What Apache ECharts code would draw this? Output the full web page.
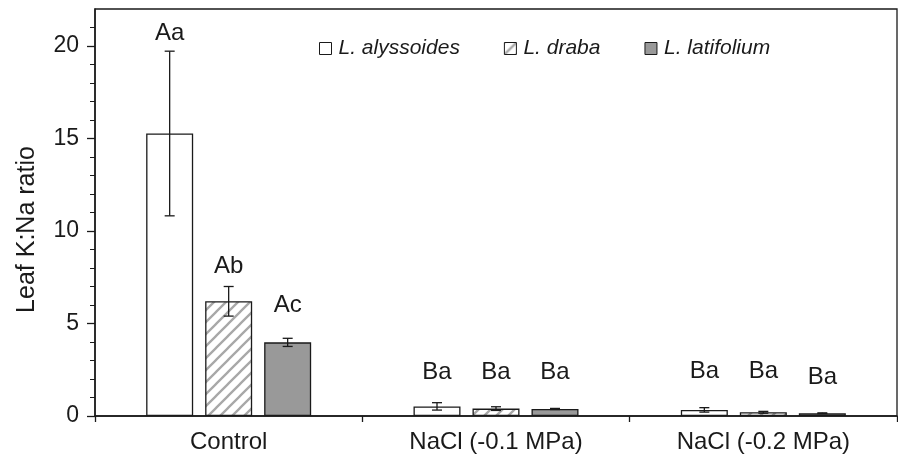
<!DOCTYPE html>
<html><head><meta charset="utf-8">
<script src="https://cdn.jsdelivr.net/npm/echarts@6.0.0/dist/echarts.min.js"></script>
<style>html,body{margin:0;padding:0;background:#fff}#c{width:898px;height:461px}</style>
</head><body><div id="c"></div>
<script>
// ---- data ----
const categories = ['Control', 'NaCl (-0.1 MPa)', 'NaCl (-0.2 MPa)'];
const seriesNames = ['L. alyssoides', 'L. draba', 'L. latifolium'];
const alyssoides = [15.27, 0.52, 0.33];
const draba = [6.2, 0.4, 0.2];
const latifolium = [3.98, 0.38, 0.15];
const alyssoidesErr = [4.45, 0.2, 0.12];
const drabaErr = [0.8, 0.1, 0.05];
const latifoliumErr = [0.22, 0.03, 0.02];
const alyssoidesLetters = ['Aa', 'Ba', 'Ba'];
const drabaLetters = ['Ab', 'Ba', 'Ba'];
const latifoliumLetters = ['Ac', 'Ba', 'Ba'];
const alyssoidesLetterY = [20.7, 2.35, 2.4];
const drabaLetterY = [8.1, 2.35, 2.4];
const latifoliumLetterY = [6.0, 2.35, 2.1];
const yTicks = [0, 5, 10, 15, 20];
const yMax = 22;

// ---- styles ----
const FONT = 'Liberation Sans, Arial, sans-serif';
const TXT = '#1a1a1a';
const LINE = '#1a1a1a';
const BAR_W = 47, BAR_GAP = 12;

function hatch() {
  const s = 12;
  const c = document.createElement('canvas');
  c.width = s; c.height = s;
  const g = c.getContext('2d');
  g.fillStyle = '#fff'; g.fillRect(0, 0, s, s);
  g.strokeStyle = '#a8a8a8'; g.lineWidth = 2.3;
  g.beginPath();
  g.moveTo(-2, s + 2); g.lineTo(s + 2, -2);
  g.moveTo(-2, 2); g.lineTo(2, -2);
  g.moveTo(s - 2, s + 2); g.lineTo(s + 2, s - 2);
  g.stroke();
  return c;
}
const fills = ['#ffffff', { image: hatch(), repeat: 'repeat' }, '#999999'];
const values = [alyssoides, draba, latifolium];
const errs = [alyssoidesErr, drabaErr, latifoliumErr];
const letters = [alyssoidesLetters, drabaLetters, latifoliumLetters];
const letterY = [alyssoidesLetterY, drabaLetterY, latifoliumLetterY];

const minorTicks = [];
for (let v = 0; v < yMax; v++) minorTicks.push(v);

const barSeries = seriesNames.map((n, i) => ({
  name: n, type: 'bar', barWidth: BAR_W, barGap: (BAR_GAP / BAR_W * 100) + '%',
  data: values[i],
  itemStyle: { color: fills[i], borderColor: LINE, borderWidth: 1.3 },
  z: 2
}));

const errData = [], letterData = [];
for (let s = 0; s < 3; s++) for (let c = 0; c < 3; c++) {
  errData.push([c, values[s][c], errs[s][c], s]);
  letterData.push([c, letterY[s][c], letters[s][c], s]);
}

const option = {
  animation: false,
  backgroundColor: '#fff',
  textStyle: { fontFamily: FONT },
  grid: { left: 95, right: 1, top: 9, bottom: 45, show: true, borderColor: LINE, borderWidth: 1.3, backgroundColor: 'transparent' },
  legend: {
    data: seriesNames, left: 314, top: 33, icon: 'rect', itemWidth: 12, itemHeight: 12, itemGap: 44,
    textStyle: { fontFamily: FONT, fontSize: 21, fontStyle: 'italic', color: TXT, padding: [0, 0, 0, 2] },
    itemStyle: { borderColor: LINE, borderWidth: 1 }
  },
  xAxis: {
    type: 'category', data: categories,
    axisLine: { lineStyle: { color: LINE, width: 1.5 } },
    axisTick: { show: true, length: 6, lineStyle: { color: LINE, width: 1.3 } },
    axisLabel: { fontSize: 24, color: TXT, margin: 14, fontFamily: FONT }
  },
  yAxis: [{
    type: 'value', min: 0, max: yMax, interval: 5,
    name: 'Leaf K:Na ratio', nameLocation: 'middle', nameGap: 55,
    nameTextStyle: { fontSize: 25, color: TXT, fontFamily: FONT, padding: [0, 34, 0, 0] },
    axisLine: { show: true, lineStyle: { color: LINE, width: 1.5 } },
    axisTick: { show: true, length: 8, customValues: yTicks, lineStyle: { color: LINE, width: 1.3 } },
    axisLabel: { fontSize: 23, color: TXT, margin: 16, customValues: yTicks, fontFamily: FONT },
    splitLine: { show: false }
  }, {
    type: 'value', min: 0, max: yMax, position: 'left', offset: 0,
    axisLine: { show: false },
    axisTick: { show: true, length: 5, customValues: minorTicks, lineStyle: { color: LINE, width: 1 } },
    axisLabel: { show: false }, splitLine: { show: false }
  }],
  series: [
    ...barSeries,
    {
      type: 'custom', name: 'err', data: errData, z: 5, silent: true,
      encode: { x: 0, y: 1 },
      renderItem: function (params, api) {
        const c = api.value(0), v = api.value(1), e = api.value(2), s = api.value(3);
        const off = (s - 1) * (BAR_W + BAR_GAP);
        const top = api.coord([c, v + e]);
        const bot = api.coord([c, Math.max(v - e, 0)]);
        const x = top[0] + off;
        const hw = 5;
        const st = { stroke: LINE, lineWidth: 1.3 };
        return { type: 'group', children: [
          { type: 'line', shape: { x1: x, y1: top[1], x2: x, y2: bot[1] }, style: st },
          { type: 'line', shape: { x1: x - hw, y1: top[1], x2: x + hw, y2: top[1] }, style: st },
          { type: 'line', shape: { x1: x - hw, y1: bot[1], x2: x + hw, y2: bot[1] }, style: st }
        ] };
      }
    },
    {
      type: 'custom', name: 'letters', data: letterData, z: 6, silent: true,
      encode: { x: 0, y: 1 },
      renderItem: function (params, api) {
        const c = api.value(0), y = api.value(1), s = api.value(3);
        const d = letterData[params.dataIndex];
        const off = (s - 1) * (BAR_W + BAR_GAP);
        const p = api.coord([c, y]);
        return { type: 'text', style: { x: p[0] + off, y: p[1], text: d[2], fill: TXT,
          font: '24px ' + FONT, textAlign: 'center', textVerticalAlign: 'middle' } };
      }
    }
  ]
};
const chart = echarts.init(document.getElementById('c'));
chart.setOption(option);
</script>
</body></html>
